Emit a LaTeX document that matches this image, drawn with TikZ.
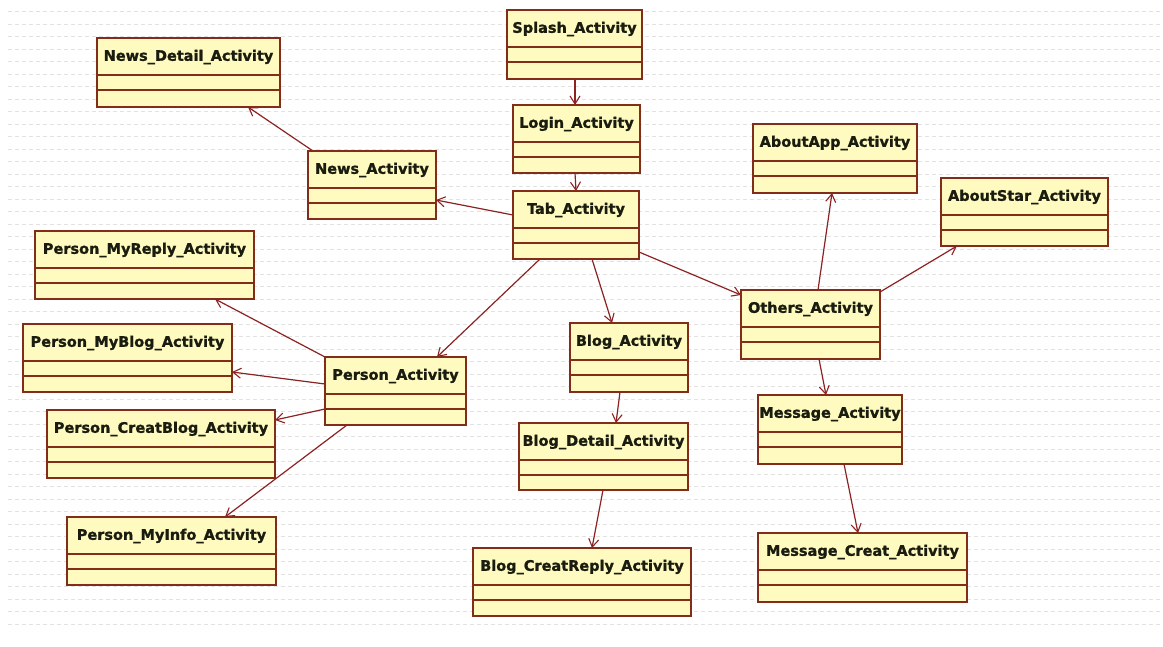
\documentclass[tikz,border=0pt]{standalone}
\usepackage{fontspec}
\setmainfont{DejaVu Sans}[BoldFeatures={FakeBold=1.2}]
\usetikzlibrary{calc,arrows.meta}

\definecolor{boxfill}{RGB}{255,251,192}
\definecolor{boxline}{RGB}{130,45,25}
\definecolor{linkline}{RGB}{140,35,35}
\definecolor{gridline}{RGB}{226,226,226}
\definecolor{titleink}{RGB}{25,28,15}

\tikzset{
  umlbox/.style={draw=boxline, fill=boxfill, line width=1.8pt, inner sep=0pt, outer sep=0pt},
  umlrule/.style={draw=boxline, line width=1.8pt},
  umltitle/.style={inner sep=0pt, text=titleink, font=\fontsize{14.5}{16}\selectfont\bfseries},
  assoc/.style={draw=linkline, line width=1.2pt,
    -{Straight Barb[length=8pt, width=10pt, line width=1.1pt]}},
  bggrid/.style={draw=gridline, line width=1.1pt, dash pattern=on 4pt off 3pt}
}

% class box: name, left, top, right, bottom, title
\newcommand\umlclass[6]{%
  \node[umlbox, anchor=north west,
        minimum width={(#4-#2)*1pt}, minimum height={(#5-#3)*1pt}] (#1) at (#2,#3) {};
  \draw[umlrule] ($(#1.north west)+(0,37)$) -- ($(#1.north east)+(0,37)$);
  \draw[umlrule] ($(#1.north west)+(0,52)$) -- ($(#1.north east)+(0,52)$);
  \node[umltitle] (#1-title) at ($(#1.north)+(0,19)$) {#6};
}

\begin{document}
\begin{tikzpicture}[x=1pt, y=-1pt]
  \useasboundingbox (0,0) rectangle (1163,646);
  \fill[white] (0,0) rectangle (1163,646);

  % dashed background rows
  \foreach \r in {0,...,49} {
    \draw[bggrid] (8,{11.7+12.5*\r}) -- (1163,{11.7+12.5*\r});
  }

  % classes
  \umlclass{splash}{507}{10}{642}{79}{Splash\_Activity}
  \umlclass{login}{513}{105}{640}{173}{Login\_Activity}
  \umlclass{tab}{513}{191}{639}{259}{Tab\_Activity}
  \umlclass{newsdetail}{97}{38}{280}{107}{News\_Detail\_Activity}
  \umlclass{news}{308}{151}{436}{219}{News\_Activity}
  \umlclass{myreply}{35}{231}{254}{299}{Person\_MyReply\_Activity}
  \umlclass{myblog}{23}{324}{232}{392}{Person\_MyBlog\_Activity}
  \umlclass{creatblog}{47}{410}{275}{478}{Person\_CreatBlog\_Activity}
  \umlclass{myinfo}{67}{517}{276}{585}{Person\_MyInfo\_Activity}
  \umlclass{person}{325}{357}{466}{425}{Person\_Activity}
  \umlclass{blog}{570}{323}{688}{392}{Blog\_Activity}
  \umlclass{blogdetail}{519}{423}{688}{490}{Blog\_Detail\_Activity}
  \umlclass{blogreply}{473}{548}{691}{616}{Blog\_CreatReply\_Activity}
  \umlclass{others}{741}{290}{880}{359}{Others\_Activity}
  \umlclass{message}{758}{395}{902}{464}{Message\_Activity}
  \umlclass{messagecreat}{758}{533}{967}{602}{Message\_Creat\_Activity}
  \umlclass{aboutapp}{753}{124}{917}{193}{AboutApp\_Activity}
  \umlclass{aboutstar}{941}{178}{1108}{246}{AboutStar\_Activity}

  % navigation links
  \draw[assoc] ($(splash.south)+(0.5,0)$) -- ($(login.north)+(-1.5,0)$);
  \draw[assoc] ($(login.south)+(-1.5,0)$) -- ($(tab.north)+(0,0)$);
  \draw[assoc] ($(tab.north west)+(0,24)$) -- ($(news.north east)+(0,49)$);
  \draw[assoc] ($(news.north west)+(5,0)$) -- ($(newsdetail.south west)+(151,0)$);
  \draw[assoc] ($(tab.south west)+(27,0)$) -- ($(person.north west)+(112,0)$);
  \draw[assoc] (person.north west) -- ($(myreply.south west)+(180,0)$);
  \draw[assoc] ($(person.north west)+(0,27)$) -- ($(myblog.north east)+(0,48)$);
  \draw[assoc] ($(person.north west)+(0,52)$) -- ($(creatblog.north east)+(0,10)$);
  \draw[assoc] ($(person.south west)+(22,0)$) -- ($(myinfo.north west)+(158,0)$);
  \draw[assoc] ($(tab.south west)+(79,0)$) -- ($(blog.north west)+(42,0)$);
  \draw[assoc] ($(tab.south east)+(0,-7)$) -- ($(others.north west)+(0,5)$);
  \draw[assoc] ($(others.north west)+(77,0)$) -- ($(aboutapp.south west)+(79,0)$);
  \draw[assoc] ($(others.north east)+(0,2)$) -- ($(aboutstar.south west)+(16,0)$);
  \draw[assoc] ($(others.south west)+(78,0)$) -- ($(message.north west)+(68,0)$);
  \draw[assoc] ($(message.south west)+(86,0)$) -- ($(messagecreat.north west)+(100,0)$);
  \draw[assoc] ($(blog.south west)+(50,0)$) -- ($(blogdetail.north west)+(97,0)$);
  \draw[assoc] ($(blogdetail.south west)+(84,0)$) -- ($(blogreply.north west)+(119,0)$);
\end{tikzpicture}
\end{document}
